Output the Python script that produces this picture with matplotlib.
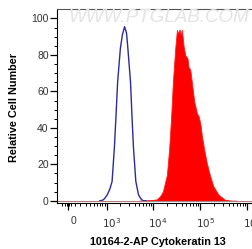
import numpy as np
import matplotlib
matplotlib.use('Agg')
import matplotlib.pyplot as plt
import matplotlib.transforms as mtransforms

plt.rcParams['font.family'] = ['Liberation Sans', 'DejaVu Sans']

# control (blue outline), intensity vs relative count
ctrl_x = [700, 813, 900, 1035, 1180, 1318, 1479, 1607, 1738, 1995, 2200, 2455,
          2700, 2884, 3289, 3524, 3802, 4266, 4864, 5500, 6124, 7000]
ctrl_y = [0, 0.3, 1.2, 3.3, 6.5, 10.6, 29, 47, 65, 83.7, 91, 95.5,
          92, 83.7, 65, 47, 29, 10.6, 3.3, 1.0, 0, 0]

# stained sample (red filled)
samp_x = [5000, 7080, 10000, 12000, 14000, 16070, 19540, 21880, 24150, 26240,
          29380, 31920, 34000, 36500, 38500, 40740, 44160, 47970, 53700, 56230,
          61240, 66070, 74470, 85110, 92040, 100000, 108700, 121600, 138000,
          163300, 190500, 245500, 338800, 467700, 600000]
samp_y = [0, 0.2, 0.5, 0.8, 2.5, 5.1, 14.2, 28.9, 47, 65.4,
          83.7, 93.7, 92, 94, 91, 93.7, 85, 80, 78, 73.5,
          72, 65.4, 54.5, 48, 46.5, 42.7, 35.4, 28, 20.6,
          13.3, 7.9, 3.3, 0.5, 0, 0]

xticks = [0, 1e3, 1e4, 1e5, 1e6]
xticklabels = ['0', '$10^3$', '$10^4$', '$10^5$', '$10^6$']
yticks = [0, 20, 40, 60, 80, 100]

C = 10 ** 2.19


def fwd(v):
    return np.arcsinh(np.asarray(v, dtype=float) / (2 * C)) / np.log(10) + np.log10(C)


def inv(p):
    return 2 * C * np.sinh((np.asarray(p, dtype=float) - np.log10(C)) * np.log(10))


fig = plt.figure(figsize=(2.52, 2.49), dpi=100)
ax = fig.add_axes([57 / 252, 1 - 203.5 / 249, 195 / 252, 194.5 / 249])
ax.set_xscale('function', functions=(fwd, inv))
ax.set_xlim(inv(1.955), inv(6.10))
ax.set_ylim(-1.5, 105.2)

ax.fill_between(samp_x, samp_y, 0, color='#ff0000', lw=0.6, edgecolor='#ff2020')
ax.plot(ctrl_x, ctrl_y, color='#2b2b9c', lw=1.0)
ax.axhline(0, color='#b08080', lw=0.8)

ax.set_xticks(xticks)
ax.set_xticklabels(xticklabels)
minor = [-100, -50, -20, 20, 50]
minor += [m * 100 for m in range(1, 10)]
for k in (3, 4, 5):
    minor += [m * 10 ** k for m in range(2, 10)]
ax.set_xticks(minor, minor=True)
ax.set_yticks(yticks)
ax.set_yticks(np.arange(0, 105, 5), minor=True)

ax.tick_params(axis='both', which='major', length=5, width=0.9, labelsize=7.5,
               colors='black', labelcolor='#333333')
ax.tick_params(axis='both', which='minor', length=2.5, width=0.7)
ax.tick_params(axis='x', pad=4)
ax.tick_params(axis='y', pad=1)

off = mtransforms.ScaledTranslation(5 / 100, 0, fig.dpi_scale_trans)
for lab in ax.get_xticklabels():
    lab.set_transform(lab.get_transform() + off)

ax.spines['right'].set_visible(False)
ax.spines['top'].set_color('#555555')

ax.text(0.52, 0.955, 'WWW.PTGLAB.COM', transform=ax.transAxes, ha='center',
        va='center', fontsize=13.5, color='#e4e4e4', style='italic')

fig.text(158 / 252, 1 - 241.5 / 249, '10164-2-AP Cytokeratin 13', ha='center',
         va='center', fontsize=7.8, fontweight='bold')
fig.text(14 / 252, 1 - 107 / 249, 'Relative Cell Number', ha='center',
         va='center', rotation=90, fontsize=7.8, fontweight='bold')

fig.savefig('out.png', dpi=100)
